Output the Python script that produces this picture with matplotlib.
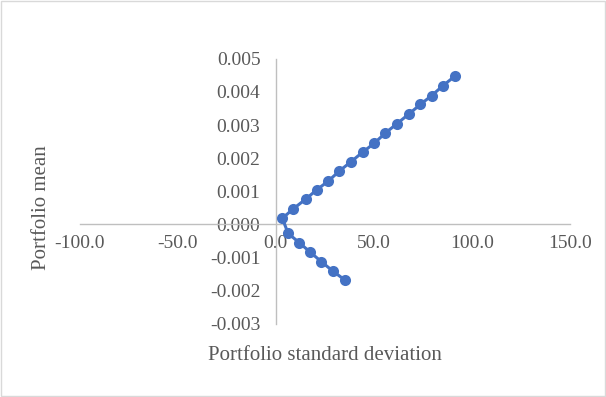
import matplotlib.pyplot as plt
from matplotlib.ticker import FuncFormatter

# portfolio frontier points (std dev, mean)
std_dev = [35.2, 29.1, 23.3, 17.6, 11.9, 6.3,
           3.4, 8.8, 15.3, 20.9, 26.9, 32.5, 38.4, 44.4, 50.3, 56.0,
           61.9, 67.9, 73.8, 79.6, 85.4, 91.5]
mean = [-0.00168, -0.00141, -0.00113, -0.00084, -0.00055, -0.00027,
        0.00018, 0.00046, 0.00076, 0.00104, 0.00131, 0.00161, 0.00189, 0.00218,
        0.00245, 0.00276, 0.00304, 0.00333, 0.00362, 0.00389, 0.00419, 0.00448]
x_ticks = [-100, -50, 0, 50, 100, 150]
y_ticks = [-0.003, -0.002, -0.001, 0.0, 0.001, 0.002, 0.003, 0.004, 0.005]

plt.rcParams['font.family'] = ['Liberation Serif', 'DejaVu Serif']
plt.rcParams['font.size'] = 14

fig = plt.figure(figsize=(6.06, 3.97), dpi=100)
ax = fig.add_axes([79.7 / 606, 1 - 323.6 / 397, 490 / 606, 264.8 / 397])

ax.plot(std_dev, mean, color='#4472C4', lw=2.2, marker='o', ms=8,
        markeredgewidth=0, zorder=3)

ax.set_xlim(-100, 150)
ax.set_ylim(-0.003, 0.005)
ax.set_xticks(x_ticks)
ax.set_yticks(y_ticks)
ax.xaxis.set_major_formatter(FuncFormatter(lambda v, p: '{:.1f}'.format(v)))
ax.yaxis.set_major_formatter(FuncFormatter(lambda v, p: '{:.3f}'.format(v)))

#坐标轴交于原点
for s in ['top', 'right']:
    ax.spines[s].set_visible(False)
ax.spines['left'].set_position(('data', 0))
ax.spines['bottom'].set_position(('data', 0))
for s in ['left', 'bottom']:
    ax.spines[s].set_color('#BFBFBF')
    ax.spines[s].set_linewidth(1.0)
ax.tick_params(axis='x', length=0, pad=7.5, colors='#595959', labelcolor='#595959')
ax.tick_params(axis='y', length=0, pad=11, colors='#595959', labelcolor='#595959')
ax.patch.set_visible(False)

fig.text(42 / 606, 1 - 208 / 397, 'Portfolio mean', rotation=90,
         ha='center', va='center', color='#595959', fontsize=15)
fig.text(325 / 606, 1 - 355 / 397, 'Portfolio standard deviation',
         ha='center', va='center', color='#595959', fontsize=15)

# figure border
fig.patches.append(plt.Rectangle((0.002, 0.002), 0.996, 0.995, transform=fig.transFigure,
                                 fill=False, edgecolor='#D9D9D9', lw=1.0))

fig.savefig('out.png', dpi=100)
